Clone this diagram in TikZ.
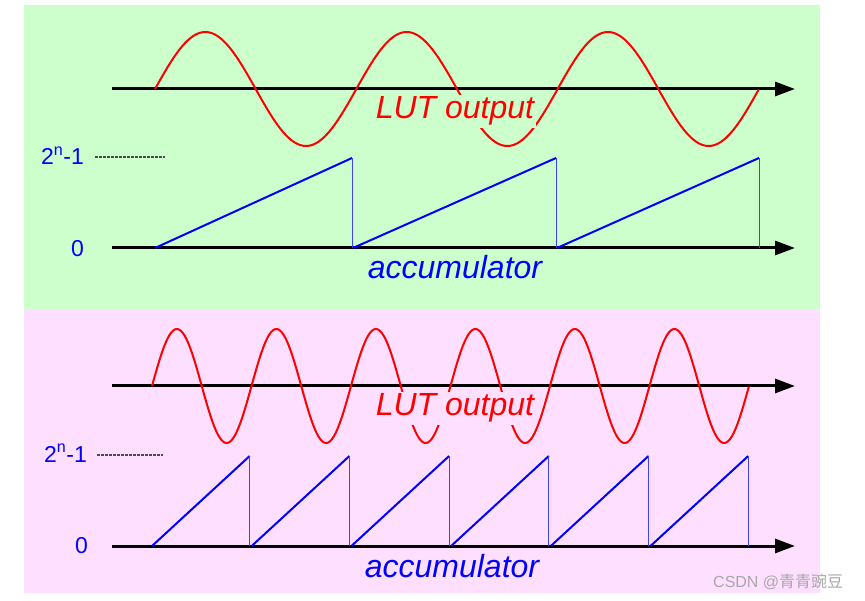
\documentclass[tikz,border=0pt]{standalone}
\usepackage{fontspec}
\setmainfont{Liberation Sans}
\newfontfamily\cjk{Noto Sans CJK SC}
\usetikzlibrary{arrows.meta}
\definecolor{bggreen}{HTML}{CCFFCC}
\definecolor{bgpink}{HTML}{FFDFFF}
\definecolor{wm}{HTML}{A8A8A8}
\tikzset{
  axisline/.style={line width=3pt,-{Triangle[length=20pt,width=14pt]}},
  sinecurve/.style={red,line width=2pt,line join=round},
  ramp/.style={blue,line width=2pt},
  drop/.style={blue!75,line width=1pt},
  levelmark/.style={black!70,line width=1.2pt,dash pattern=on 2.6pt off 1.4pt},
  numlabel/.style={blue,font=\fontsize{23}{27}\selectfont,inner sep=0pt,anchor=base},
  lutlabel/.style={red,font=\fontsize{32}{38}\selectfont\itshape,inner sep=2pt,anchor=base},
  acclabel/.style={blue,font=\fontsize{32}{38}\selectfont\itshape,inner sep=0pt,anchor=base}
}
\begin{document}
\begin{tikzpicture}[x=1pt,y=-1pt]
\useasboundingbox (0,0) rectangle (865,601);
\fill[white] (0,0) rectangle (865,601);
% panels
\fill[bggreen] (24,5) rectangle (820,309);
\fill[bgpink] (24,309) rectangle (820,593);

%%%% TOP PANEL
\coordinate (ta0) at (112,89);
\coordinate (ta1) at (795,89);
\draw[axisline] (ta0) -- (ta1);
\draw[sinecurve] plot[domain=0:3,samples=241,smooth] ({155+201.33*\x},{89-57*sin(360*\x)});
\node[lutlabel,fill=bggreen] (lut1) at (455,119) {LUT output};

\coordinate (tb0) at (112,248);
\coordinate (tb1) at (795,248);
\draw[axisline] (tb0) -- (tb1);
\foreach \s/\t in {155/352,353/556,557/759}{
  \draw[ramp] (\s,248) -- (\t,158);
  \draw[drop] (\t,158) -- (\t,248);
}
\node[numlabel,anchor=base east] (max1) at (84,165) {2\textsuperscript{n}-1};
\coordinate (d1a) at (95,157);
\coordinate (d1b) at (165,157);
\draw[levelmark] (d1a) -- (d1b);
\node[numlabel,anchor=base east] (zero1) at (84,257) {0};
\node[acclabel] (acc1) at (455,279) {accumulator};

%%%% BOTTOM PANEL
\coordinate (ba0) at (112,386);
\coordinate (ba1) at (795,386);
\draw[axisline] (ba0) -- (ba1);
\draw[sinecurve] plot[domain=0:6,samples=481,smooth] ({152+99.5*\x},{386-57*sin(360*\x)});
\node[lutlabel,fill=bgpink] (lut2) at (455,416) {LUT output};

\coordinate (bb0) at (112,546);
\coordinate (bb1) at (795,546);
\draw[axisline] (bb0) -- (bb1);
\foreach \i in {0,...,5}{
  \pgfmathsetmacro{\s}{152+99.7*\i}
  \pgfmathsetmacro{\t}{152+99.7*(\i+1)-2}
  \draw[ramp] (\s,546) -- (\t,456);
  \draw[drop] (\t,456) -- (\t,546);
}
\node[numlabel,anchor=base east] (max2) at (87,462) {2\textsuperscript{n}-1};
\coordinate (d2a) at (97,455);
\coordinate (d2b) at (163,455);
\draw[levelmark] (d2a) -- (d2b);
\node[numlabel,anchor=base east] (zero2) at (88,553) {0};
\node[acclabel] (acc2) at (452,577) {accumulator};

% watermark
\node[wm,font=\fontsize{16}{18}\selectfont,inner sep=0pt,anchor=base west] (wmark) at (713,587) {CSDN @{\cjk 青青豌豆}};
\end{tikzpicture}
\end{document}
